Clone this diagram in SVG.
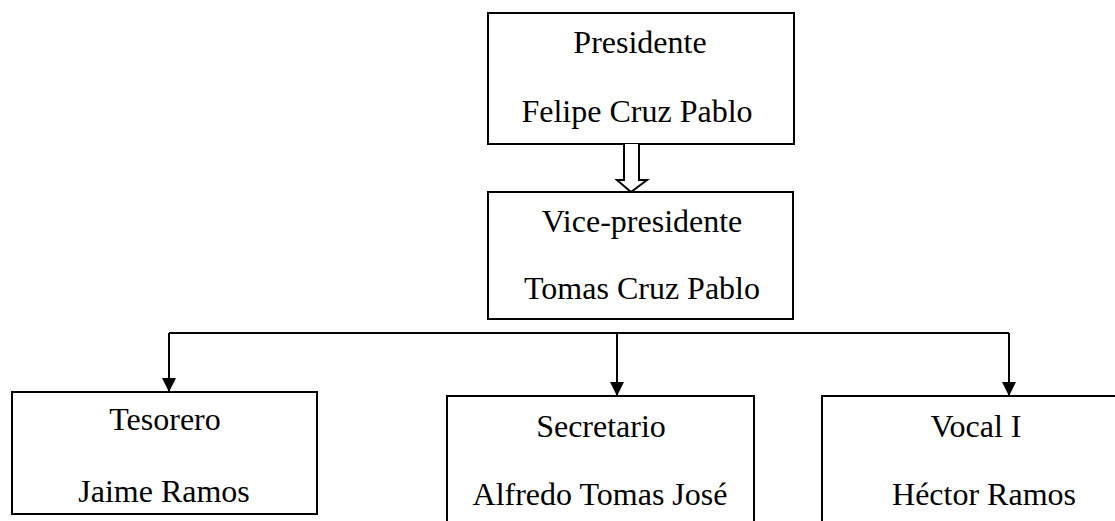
<svg xmlns="http://www.w3.org/2000/svg" width="1115" height="521" viewBox="0 0 1115 521">
<style>
.box{fill:#fff;stroke:#000;stroke-width:2}
.t{font-family:"Liberation Serif","Times New Roman",serif;font-size:32px;fill:#000;text-anchor:middle}
.ln{fill:none;stroke:#000;stroke-width:2}
</style>
<defs>
<marker id="ah" viewBox="0 0 14 14" refX="14" refY="7" markerWidth="14" markerHeight="14" markerUnits="userSpaceOnUse" orient="auto">
<path d="M0,0 L14,7 L0,14 Z" fill="#000"/>
</marker>
</defs>
<rect width="1115" height="521" fill="#fff"/>
<g id="presidente">
<rect class="box" x="488" y="13" width="306" height="131"/>
<text class="t" x="640" y="53">Presidente</text>
<text class="t" x="637" y="122">Felipe Cruz Pablo</text>
</g>
<g id="vicepresidente">
<rect class="box" x="488" y="192" width="305" height="127"/>
<text class="t" x="642" y="232">Vice-presidente</text>
<text class="t" x="642" y="299">Tomas Cruz Pablo</text>
</g>
<g id="tesorero">
<rect class="box" x="12" y="392" width="305" height="122"/>
<text class="t" x="165" y="430">Tesorero</text>
<text class="t" x="164" y="502">Jaime Ramos</text>
</g>
<g id="secretario">
<rect class="box" x="447" y="396" width="307" height="140"/>
<text class="t" x="601" y="437">Secretario</text>
<text class="t" x="600" y="505">Alfredo Tomas José</text>
</g>
<g id="vocal">
<rect class="box" x="822" y="396" width="320" height="140"/>
<text class="t" x="976" y="437">Vocal I</text>
<text class="t" x="984" y="505">Héctor Ramos</text>
</g>
<g id="connectors">
<path d="M624,144 L624,180 L617,180 L631,192 L647,180 L639,180 L639,144" fill="#fff" stroke="#000" stroke-width="2" stroke-linejoin="miter"/>
<path class="ln" d="M169,333 L1009,333"/>
<path class="ln" d="M169,333 L169,392" marker-end="url(#ah)"/>
<path class="ln" d="M617,333 L617,396" marker-end="url(#ah)"/>
<path class="ln" d="M1009,333 L1009,396" marker-end="url(#ah)"/>
</g>
</svg>
